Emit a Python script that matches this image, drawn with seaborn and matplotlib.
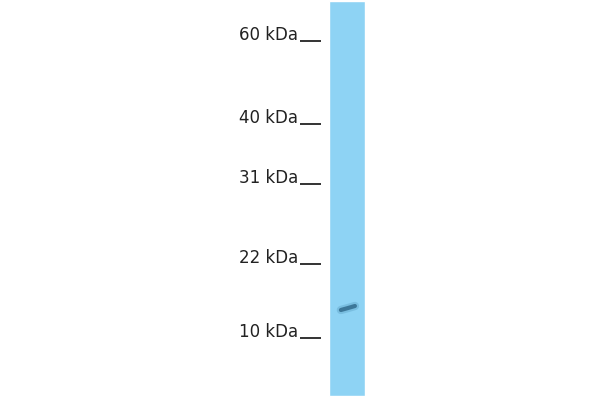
import matplotlib
matplotlib.use("Agg")
import matplotlib.pyplot as plt
import seaborn as sns
import pandas as pd

# ---- data ----
marker_labels = ["60 kDa", "40 kDa", "31 kDa", "22 kDa", "10 kDa"]
marker_pos = [41, 124, 184, 264, 338]        # migration distance (px from top of gel)
lane_names = ["Sample"]
lane_length = [395]                          # lane length (px)
band_pos = [308]                             # detected band migration (px)
band_intensity = [0.8]

sns.set_theme(style="white")
plt.rcParams["font.family"] = ["DejaVu Sans"]

fig = plt.figure(figsize=(6, 4), dpi=100)
ax = fig.add_axes([0, 0, 1, 1])
ax.set_xlim(0, 600)
ax.set_ylim(400, 0)
ax.axis("off")

# marker labels and ticks
for lab, y in zip(marker_labels, marker_pos):
    ax.text(298, y - 6, lab, ha="right", va="center", fontsize=12,
            color="#222222")
ax.hlines(marker_pos, 300, 321, color="#333333", linewidth=1.4)

# lane as a seaborn bar in an inset axes positioned over the lane
lx0, lx1 = 329, 365
lax = fig.add_axes([lx0 / 600, 0, (lx1 - lx0) / 600, 1])
df = pd.DataFrame({"lane": lane_names, "len": lane_length})
sns.barplot(data=df, x="lane", y="len", ax=lax, color="#8ED3F4",
            width=1.0, saturation=1)
lax.set_xlim(-0.5, 0.5)
lax.set_ylim(400, 0)
lax.axis("off")
for p in lax.patches:
    p.set_y(1)

# band
for y, a in zip(band_pos, band_intensity):
    bdf = pd.DataFrame({"x": [-0.17, 0.03, 0.22], "y": [y + 2, y, y - 2]})
    sns.lineplot(data=bdf, x="x", y="y", ax=lax, color="#5a9fc4",
                 linewidth=6, alpha=0.4, solid_capstyle="round", sort=False)
    sns.lineplot(data=bdf, x="x", y="y", ax=lax, color="#2d6688",
                 linewidth=3, alpha=a, solid_capstyle="round", sort=False)
lax.set_xlim(-0.5, 0.5)
lax.set_ylim(400, 0)
lax.axis("off")

fig.savefig("out.png", dpi=100)
